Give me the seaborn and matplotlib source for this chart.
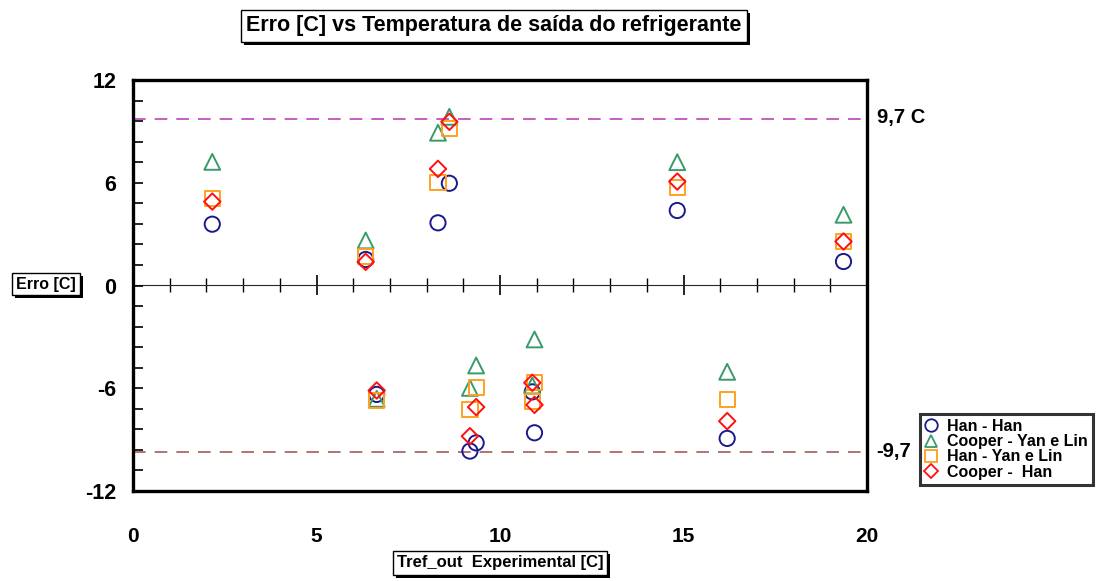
import matplotlib
matplotlib.use("Agg")
import matplotlib.pyplot as plt
from matplotlib.lines import Line2D
from matplotlib.patches import Rectangle
from matplotlib.transforms import IdentityTransform
from matplotlib.ticker import MultipleLocator
import numpy as np
import pandas as pd
import seaborn as sns

# Experimental refrigerant outlet temperature [C]
tref = [2.16, 6.34, 6.64, 8.31, 8.62, 9.18, 9.35, 10.88, 10.94, 14.83, 16.19, 19.36]

# Prediction error [C] for each correlation pair
han_han = [3.58, 1.52, -6.36, 3.66, 5.97, -9.67, -9.19, -6.21, -8.60, 4.38, -8.93, 1.40]
cooper_yanlin = [7.22, 2.63, -6.62, 8.92, 9.85, -5.98, -4.67, -5.84, -3.15, 7.20, -5.04, 4.13]
han_yanlin = [5.08, 1.71, -6.70, 6.00, 9.17, -7.24, -5.94, -6.79, -5.65, 5.70, -6.66, 2.59]
cooper_han = [4.90, 1.38, -6.13, 6.81, 9.56, -8.80, -7.10, -5.68, -6.97, 6.07, -7.92, 2.57]

series_names = ["Han - Han", "Cooper - Yan e Lin", "Han - Yan e Lin", "Cooper -  Han"]
series_values = [han_han, cooper_yanlin, han_yanlin, cooper_han]
limit = 9.7

x_ticks = [0, 5, 10, 15, 20]
y_ticks = [-12, -6, 0, 6, 12]

markers = ["o", "^", "s", "D"]
colors = ["#1a1a8c", "#3a9a6a", "#ffa020", "#ff1010"]
sizes = [120, 130, 120, 70]

sns.set_style("white")
plt.rcParams["font.family"] = ["Liberation Sans", "DejaVu Sans"]
plt.rcParams["font.weight"] = "bold"
plt.rcParams["axes.unicode_minus"] = False
plt.rcParams["text.color"] = "black"
plt.rcParams["xtick.color"] = "black"
plt.rcParams["ytick.color"] = "black"

W, H = 1109, 581
fig = plt.figure(figsize=(W / 100, H / 100), dpi=100)
ax = fig.add_axes([133 / W, 1 - 491 / H, (867 - 133) / W, (491 - 80) / H])

df = pd.DataFrame({
    "tref": np.tile(tref, len(series_names)),
    "erro": np.concatenate(series_values),
    "serie": np.repeat(series_names, len(tref)),
})

for name, m, c, s in zip(series_names, markers, colors, sizes):
    sub = df[df["serie"] == name]
    sns.scatterplot(data=sub, x="tref", y="erro", marker=m, s=s,
                    facecolor="none", edgecolor=c, linewidth=1.4, ax=ax,
                    legend=False, zorder=3)

# tolerance bands
ax.axhline(limit, color="#c050c0", lw=1.3, dashes=(7, 5), zorder=1)
ax.axhline(-limit, color="#b06868", lw=1.3, dashes=(7, 5), zorder=1)

ax.set_xlim(0, 20)
ax.set_ylim(-12, 12)
ax.set_xticks(x_ticks)
ax.set_yticks(y_ticks)
ax.yaxis.set_minor_locator(MultipleLocator(1.2))
ax.tick_params(axis="x", which="both", length=0, pad=26, labelsize=15)
ax.tick_params(axis="y", which="both", direction="in", length=7, width=1.2,
               pad=12, labelsize=15.5, left=True, right=False)
for lab in ax.get_xticklabels() + ax.get_yticklabels():
    lab.set_fontweight("bold")
ax.set_xlabel("")
ax.set_ylabel("")
for sp in ax.spines.values():
    sp.set_visible(True)
    sp.set_color("black")
    sp.set_linewidth(2.4)

# zero axis with its own ticks
zero_ax = ax.secondary_xaxis(0.5)
zero_ax.set_xticks(x_ticks)
zero_ax.xaxis.set_minor_locator(MultipleLocator(1))
zero_ax.tick_params(axis="x", which="major", direction="inout", length=14, width=1.2, labelbottom=False)
zero_ax.tick_params(axis="x", which="minor", direction="inout", length=10, width=1.0)
zero_ax.set_xticklabels([])
zero_ax.spines["bottom"].set_linewidth(1.0)

boxed = []


def boxed_text(px, py, text, size):
    t = fig.text(px / W, 1 - py / H, text, color="black", ha="center", va="center",
                 fontsize=size, fontweight="bold", zorder=5,
                 bbox=dict(boxstyle="square,pad=0.25", fc="white", ec="black", lw=1))
    boxed.append(t)
    return t


boxed_text(494, 26, "Erro [C] vs Temperatura de saída do refrigerante", 15.5)
boxed_text(500, 563, "Tref_out  Experimental [C]", 12)
boxed_text(46, 284, "Erro [C]", 11.5)

fig.text(877 / W, 1 - 118 / H, "9,7 C", fontsize=14.5, fontweight="bold", va="center", ha="left")
fig.text(876 / W, 1 - 452 / H, "-9,7", fontsize=14.5, fontweight="bold", va="center", ha="left")

handles = [Line2D([], [], ls="none", marker=m, markersize=9 if m != "D" else 7,
                  markerfacecolor="none", markeredgecolor=c, markeredgewidth=1.3)
           for m, c in zip(markers, colors)]
leg = fig.legend(handles, series_names, loc="upper left",
                 bbox_to_anchor=(920 / W, 1 - 414 / H), frameon=True, fancybox=False,
                 edgecolor="black", prop=dict(size=11.5, weight="bold"),
                 handlelength=0.8, handletextpad=0.6, labelspacing=0.02,
                 borderpad=0.3, borderaxespad=0)
leg.get_frame().set_linewidth(2.2)

# drop shadows behind the boxed labels
fig.canvas.draw()
renderer = fig.canvas.get_renderer()
for t in boxed:
    bb = t.get_bbox_patch().get_window_extent(renderer)
    fig.add_artist(Rectangle((bb.x0 + 3, bb.y0 - 3), bb.width, bb.height,
                             transform=IdentityTransform(), fc="black", ec="none", zorder=4))

fig.savefig("out.png", dpi=100)
